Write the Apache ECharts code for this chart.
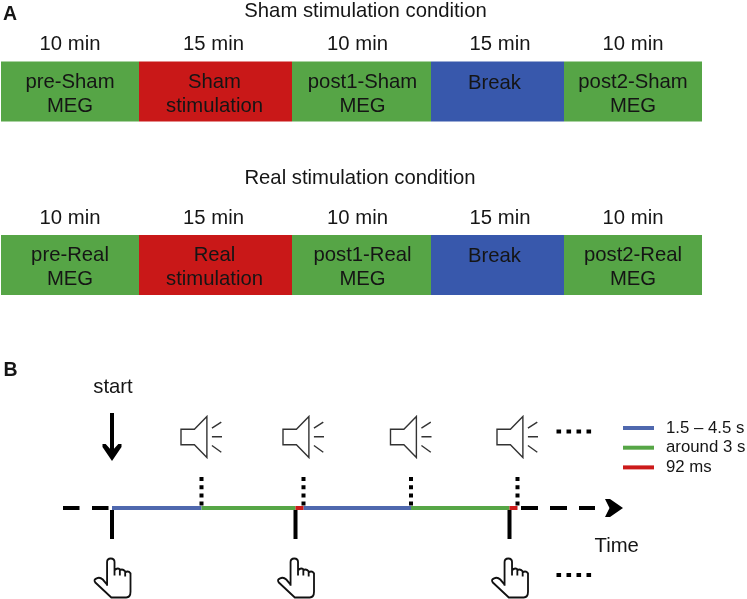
<!DOCTYPE html>
<html><head><meta charset="utf-8">
<style>html,body{margin:0;padding:0;background:#fff}#c{width:747px;height:599px}</style>
<script src="https://cdn.jsdelivr.net/npm/echarts@6/dist/echarts.min.js"></script>
</head><body><div id="c"></div>
<script>
// Panel A values
const conditions = ['Sham', 'Real'];
const blockWidths = [138, 153, 139, 133, 138];
const blockMinutes = [10, 15, 10, 15, 10];
const blockKinds = ['meg', 'stim', 'meg', 'break', 'meg'];
const shamLabels = ['pre-Sham\nMEG', 'Sham\nstimulation', 'post1-Sham\nMEG', 'Break', 'post2-Sham\nMEG'];
const realLabels = ['pre-Real\nMEG', 'Real\nstimulation', 'post1-Real\nMEG', 'Break', 'post2-Real\nMEG'];
// Panel B values (schematic time units)
const segmentLengths = [89.5, 94, 8, 107.5, 98.5, 8];
const segmentKinds = ['isi', 'wait', 'tone', 'isi', 'wait', 'tone'];
const legendLabels = ['1.5 \u2013 4.5 s', 'around 3 s', '92 ms'];

const FONT = '"Liberation Sans", Arial, sans-serif';
const TXT = '#151515';
const blockColor = {meg: '#56a546', stim: '#c91818', 'break': '#3858ac'};
const lineColor = {isi: '#4f68ae', wait: '#56a646', tone: '#cc1a1a'};
const SPEAKER = 'path://M0 12.7L13.3 12.7L25.7 0L25.7 41L13.3 28.3L0 28.3ZM30.7 11.7L40 5.7M30.7 20.3L40.7 20.3M30.7 29L40 35.7';
const HAND = 'path://M13 27L13 4Q13 .5 16.5 .5Q20 .5 20 4L20 17M20 12Q22.5 9 25 11L25 17M25 12Q27.5 10 30 13L30 18M30 14Q33 12 35 15L35 33Q35 38.5 31 38.5L17 38.5L2 24Q0 21 3 20Q6 18 9 21L13 26';

const series = [];
const labelNudge = [[0,0],[-1,0],[1,0],[-3,0],[0,0]];
const minuteNudge = [0,-2,-4,2.5,0];

// Blocks as stacked horizontal bars
blockWidths.forEach((w, i) => {
  series.push({
    type: 'bar', xAxisIndex: 0, yAxisIndex: 0, stack: 'schedule', barWidth: 60,
    itemStyle: {color: blockColor[blockKinds[i]]}, silent: true,
    data: conditions.map((c, r) => {
      const isBreak = blockKinds[i] === 'break';
      return {value: w, label: {
        show: true, position: 'inside',
        formatter: (r === 0 ? shamLabels : realLabels)[i],
        offset: [labelNudge[i][0], isBreak ? -8.4 : 2.6],
        color: TXT, fontFamily: FONT, fontSize: 20.3, lineHeight: 24
      }};
    })
  });
});
// Duration labels above each block
let acc = 0;
const minutePoints = [];
blockWidths.forEach((w, i) => {
  conditions.forEach(c => minutePoints.push({
    value: [acc + w / 2 + minuteNudge[i], c],
    label: {formatter: blockMinutes[i] + ' min'}
  }));
  acc += w;
});
series.push({
  type: 'scatter', xAxisIndex: 0, yAxisIndex: 0, symbolSize: 1, itemStyle: {color: 'transparent', opacity: 1}, silent: true,
  label: {show: true, position: 'inside', offset: [0, -47], color: TXT, fontFamily: FONT, fontSize: 20.3},
  data: minutePoints
});

// Panel B timeline
const nodes = [0];
segmentLengths.forEach(l => nodes.push(nodes[nodes.length - 1] + l));
const tones = nodes.filter((n, i) => i > 0 && (segmentKinds[i - 1] === 'isi' || segmentKinds[i - 1] === 'tone'));
const presses = nodes.filter((n, i) => i === 0 || segmentKinds[i - 1] === 'wait');

function lineS(name, color, width, data, extra) {
  return {
    type: 'line', name, xAxisIndex: 1, yAxisIndex: 1, showSymbol: false, symbol: 'none', silent: true,
    connectNulls: false, clip: false,
    lineStyle: Object.assign({color, width, cap: 'butt'}, extra || {}),
    itemStyle: {color}, data
  };
}
const pairs = (list) => { const o = []; list.forEach(p => { o.push(p[0], p[1], [p[0][0], null]); }); return o; };

// press ticks, dotted tone lines, dashed axis
series.push(lineS('press', '#000', 4, pairs(presses.map(x => [[x, -2], [x, -31]]))));
series.push(lineS('dots', '#000', 4, pairs(tones.map(x => [[x, 31], [x, 1]])), {type: [4, 4.2]}));
series.push(lineS('before', '#000', 4, [[-49, 0], [-3, 0]], {type: [16.5, 12.5]}));
series.push(lineS('after', '#000', 4, [[409, 0], [483, 0]], {type: [17, 12]}));
series.push(lineS('arrowShaft', '#000', 4, [[0, 95], [0, 52]]));
// coloured segments: one series per legend entry
['isi', 'wait', 'tone'].forEach((k, n) => {
  const d = [];
  segmentKinds.forEach((s, i) => { if (s === k) d.push([nodes[i], 0], [nodes[i + 1], 0], [nodes[i + 1], null]); });
  series.push(lineS(legendLabels[n], lineColor[k], 4, d));
});
// ellipsis
series.push(lineS('moreA', '#000', 4, [[444.5, 76.5], [480, 76.5]], {type: [4.6, 5.4]}));
series.push(lineS('moreB', '#000', 4, [[444.5, -67], [480, -67]], {type: [4.6, 5.4]}));

// icons
series.push({type: 'scatter', xAxisIndex: 1, yAxisIndex: 1, silent: true, symbol: SPEAKER, symbolSize: [41, 41],
  itemStyle: {color: 'transparent', borderColor: '#333', borderWidth: 1.4, opacity: 1},
  data: tones.map(x => [x, 71])});
series.push({type: 'scatter', xAxisIndex: 1, yAxisIndex: 1, silent: true, symbol: HAND, symbolSize: [36, 39],
  itemStyle: {color: 'transparent', borderColor: '#111', borderWidth: 1.9, opacity: 1},
  data: presses.map(x => [x + 0.5, -70])});
series.push({type: 'scatter', xAxisIndex: 1, yAxisIndex: 1, silent: true,
  symbol: 'path://M0 0L3 0L9 7L15 0L18 0L18 3L9 17L0 3Z', symbolSize: [19, 17],
  itemStyle: {color: '#000', opacity: 1}, data: [[0, 55.5]]});
series.push({type: 'scatter', xAxisIndex: 1, yAxisIndex: 1, silent: true,
  symbol: 'path://M0 0L5 0L18 9L5 18L0 18L4.5 9Z', symbolSize: [18, 18],
  itemStyle: {color: '#000', opacity: 1}, data: [[502, 0]]});

const txt = (text, cx, cy, size, weight, align) => ({
  type: 'text', x: cx, y: cy, silent: true,
  style: {text, fill: TXT, fontFamily: FONT, fontSize: size, fontWeight: weight || 'normal', align: align || 'center', verticalAlign: 'middle'}
});

const chart = echarts.init(document.getElementById('c'), null, {width: 747, height: 599});
chart.setOption({
  animation: false,
  backgroundColor: '#fff',
  tooltip: {show: false},
  grid: [
    {left: 1, top: 4.75, width: 701, height: 347},
    {left: 0, top: 360, width: 747, height: 239}
  ],
  xAxis: [
    {type: 'value', gridIndex: 0, min: 0, max: 701, show: false},
    {type: 'value', gridIndex: 1, min: -112, max: 635, show: false}
  ],
  yAxis: [
    {type: 'category', gridIndex: 0, data: conditions, inverse: true, show: false},
    {type: 'value', gridIndex: 1, min: -91, max: 148, show: false}
  ],
  legend: {
    orient: 'vertical', left: 623, top: 419.5, padding: 0, icon: 'rect', itemWidth: 31, itemHeight: 4, itemGap: 2.7,
    selectedMode: false, data: legendLabels,
    textStyle: {color: TXT, fontFamily: FONT, fontSize: 16.8, padding: [0, 0, 0, 7]}
  },
  graphic: [
    txt('A', 3, 15, 19.5, 'bold', 'left'),
    txt('B', 3.5, 371, 19.5, 'bold', 'left'),
    txt('Sham stimulation condition', 365.5, 11, 20.3),
    txt('Real stimulation condition', 360, 178, 20.3),
    txt('start', 113, 387, 20.3),
    txt('Time', 616.7, 546, 20.3)
  ],
  series
});
</script></body></html>
